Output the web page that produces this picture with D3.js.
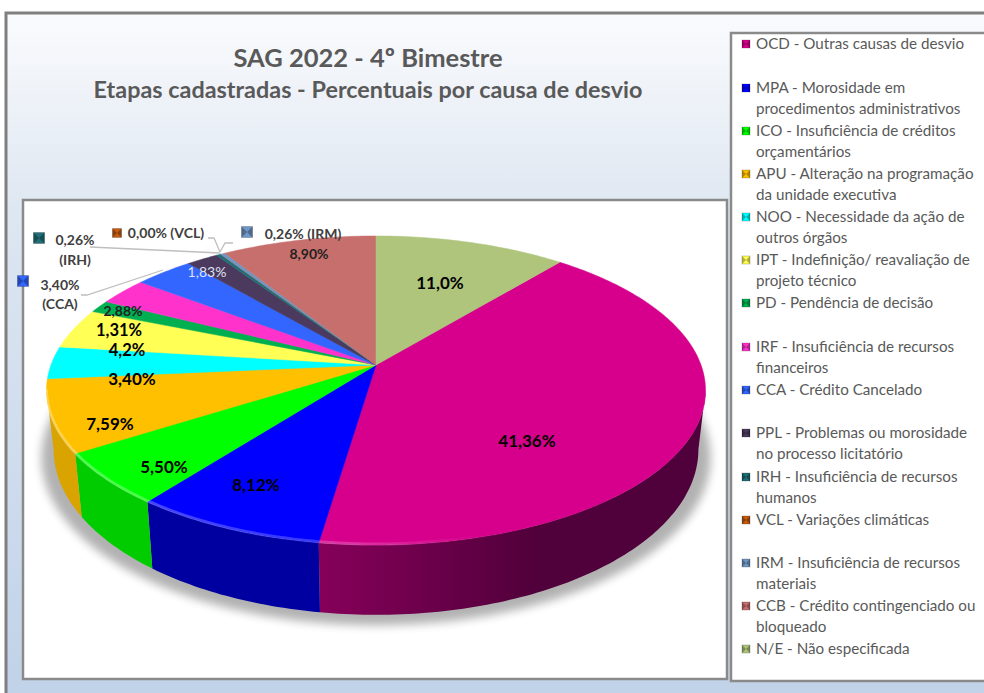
<!DOCTYPE html>
<html>
<head>
<meta charset="utf-8">
<script src="https://cdn.jsdelivr.net/npm/d3@7"></script>
<style>
html, body { margin: 0; padding: 0; background: #fff; }
svg { display: block; }
text { font-family: Lato, "Noto Sans", sans-serif; }
</style>
</head>
<body>
<svg id="chart" width="984" height="693"></svg>
<script>
var codes = ["OCD", "MPA", "ICO", "APU", "NOO", "IPT", "PD", "IRF", "CCA", "PPL", "IRH", "VCL", "IRM", "CCB", "N/E"];
var values = [41.36, 8.12, 5.50, 7.59, 3.40, 4.2, 1.31, 2.88, 3.40, 1.83, 0.26, 0.00, 0.26, 8.90, 11.0];
var colors = ["#d6008c", "#0000ff", "#00ff00", "#ffc000", "#00ffff", "#ffff55", "#00b050", "#ff33cc", "#3366ff", "#4b3a5e", "#1f6f78", "#c55a11", "#6f96c4", "#c76f6c", "#afc57c"];
var sideDark = ["#50003a", "#0000a0", "#00cc00", "#d9a400", "#00cccc", "#cccc44", "#008a40", "#cc2aa3", "#2952cc", "#3a2d49", "#185760", "#9c470e", "#587799", "#9f5856", "#8c9d63"];
var legendLines = [
    ["OCD - Outras causas de desvio"],
    ["MPA - Morosidade em", "procedimentos administrativos"],
    ["ICO - Insuficiência de créditos", "orçamentários"],
    ["APU - Alteração na programação", "da unidade executiva"],
    ["NOO - Necessidade da ação de", "outros órgãos"],
    ["IPT - Indefinição/ reavaliação de", "projeto técnico"],
    ["PD - Pendência de decisão"],
    ["IRF - Insuficiência de recursos", "financeiros"],
    ["CCA - Crédito Cancelado"],
    ["PPL - Problemas ou morosidade", "no processo licitatório"],
    ["IRH - Insuficiência de recursos", "humanos"],
    ["VCL - Variações climáticas"],
    ["IRM - Insuficiência de recursos", "materiais"],
    ["CCB - Crédito contingenciado ou", "bloqueado"],
    ["N/E - Não especificada"]
];
var legendY = [44, 88, 131, 174, 217, 260, 303, 347, 390, 433, 477, 520, 563, 606, 649];
var valueLabels = ["41,36%", "8,12%", "5,50%", "7,59%", "3,40%", "4,2%", "1,31%", "2,88%", null, "1,83%", null, null, null, "8,90%", "11,0%"];
var labelPos = [[527, 447], [256, 491], [164, 473], [110, 430], [132, 385], [127, 356], [119, 336], [123, 316], null, [207, 277], null, null, null, [309, 259], [440, 289]];
var labelSize = [17, 17, 17, 17, 17, 16.5, 16.5, 14, 0, 14, 0, 0, 0, 14, 17];

var svg = d3.select("#chart");
var defs = svg.append("defs");

var bgGrad = defs.append("linearGradient").attr("id", "bg").attr("x1", 0).attr("x2", 0).attr("y1", 0).attr("y2", 1);
bgGrad.append("stop").attr("offset", "0%").attr("stop-color", "#fafbfd");
bgGrad.append("stop").attr("offset", "30%").attr("stop-color", "#dde6f1");
bgGrad.append("stop").attr("offset", "100%").attr("stop-color", "#c0d2e8");

defs.append("filter").attr("id", "blur").attr("x", "-10%").attr("y", "-10%").attr("width", "120%").attr("height", "120%")
    .append("feGaussianBlur").attr("stdDeviation", 5);

var rimGrad = defs.append("linearGradient").attr("id", "rimFade").attr("gradientUnits", "userSpaceOnUse")
    .attr("x1", 60).attr("x2", 480).attr("y1", 0).attr("y2", 0);
rimGrad.append("stop").attr("offset", "0%").attr("stop-color", "#fff").attr("stop-opacity", 0.3);
rimGrad.append("stop").attr("offset", "70%").attr("stop-color", "#fff").attr("stop-opacity", 0.2);
rimGrad.append("stop").attr("offset", "100%").attr("stop-color", "#fff").attr("stop-opacity", 0);

svg.append("rect").attr("x", 6).attr("y", 13).attr("width", 985).attr("height", 690)
    .attr("fill", "url(#bg)").attr("stroke", "#7f7f7f").attr("stroke-width", 3);
svg.append("rect").attr("x", 23).attr("y", 200).attr("width", 704).attr("height", 479)
    .attr("fill", "#fff").attr("stroke", "#8a8a8a").attr("stroke-width", 2.5);
svg.append("rect").attr("x", 731).attr("y", 33).attr("width", 260).attr("height", 648)
    .attr("fill", "#fff").attr("stroke", "#8a8a8a").attr("stroke-width", 2.5);

svg.append("text").attr("x", 368).attr("y", 67).attr("text-anchor", "middle")
    .attr("font-size", 25.5).attr("font-weight", 700).attr("fill", "#595959").text("SAG 2022 - 4º Bimestre");
svg.append("text").attr("x", 368).attr("y", 98).attr("text-anchor", "middle")
    .attr("font-size", 23.4).attr("font-weight", 700).attr("fill", "#595959").text("Etapas cadastradas - Percentuais por causa de desvio");

// perspective: pie lies on a tilted disc, near side is bigger
var persp = 0.165;
var topDisc = { cx: 376, cy: 365, sx: 325, sy: 150.3 };
var botDisc = { cx: 376, cy: 422, sx: 318, sy: 161 };

function project(disc, a, r) {
    var X = Math.sin(a) * r, Y = -Math.cos(a) * r;
    var w = 1 - persp * Y;
    return [disc.cx + disc.sx * X / w, disc.cy + disc.sy * Y / w];
}
function arcPoints(disc, a0, a1) {
    var n = Math.max(2, Math.ceil((a1 - a0) * 60));
    return d3.range(n + 1).map(function (i) {
        return project(disc, a0 + (a1 - a0) * i / n, 1);
    });
}

// the first legend entry follows N/E, which starts at 12 o'clock
var firstAngle = values[values.length - 1] / d3.sum(values) * 2 * Math.PI;
var pie = d3.pie().value(function (d) { return d; }).sort(null)
    .startAngle(firstAngle).endAngle(firstAngle + 2 * Math.PI);
var slices = pie(values);
var line = d3.line();

// the wall only shows between the two points where the rim turns back
var wallFrom = Math.acos(persp);
wallFrom = Math.PI / 2 + (Math.PI / 2 - wallFrom);
var wallTo = 2 * Math.PI - wallFrom;

// shadow
svg.append("path")
    .attr("d", line(arcPoints({ cx: 376, cy: 430, sx: 330, sy: 163 }, 0, 2 * Math.PI)) + "Z")
    .attr("fill", "#000").attr("opacity", 0.3).attr("filter", "url(#blur)");

var pieG = svg.append("g");

// side gradients
slices.forEach(function (s, i) {
    var g = defs.append("linearGradient").attr("id", "side" + i).attr("gradientUnits", "userSpaceOnUse")
        .attr("x1", i == 0 ? 320 : project(topDisc, s.startAngle, 1)[0])
        .attr("x2", i == 0 ? 540 : project(topDisc, s.endAngle, 1)[0])
        .attr("y1", 0).attr("y2", 0);
    g.append("stop").attr("offset", "0%").attr("stop-color", i == 0 ? "#86005a" : sideDark[i]);
    g.append("stop").attr("offset", "100%").attr("stop-color", sideDark[i]);
});

var visible = slices.filter(function (s) {
    return s.endAngle > wallFrom && s.startAngle < wallTo && s.value > 0;
});
pieG.selectAll(".side").data(visible).enter().append("path")
    .attr("class", "side")
    .attr("d", function (s) {
        var a0 = Math.max(s.startAngle, wallFrom), a1 = Math.min(s.endAngle, wallTo);
        var t = arcPoints(topDisc, a0, a1);
        var b = arcPoints(botDisc, a0, a1).reverse();
        return line(t.concat(b)) + "Z";
    })
    .attr("fill", function (s) { return "url(#side" + s.index + ")"; });

pieG.selectAll(".top").data(slices).enter().append("path")
    .attr("class", "top")
    .attr("d", function (s) {
        return line([[topDisc.cx, topDisc.cy]].concat(arcPoints(topDisc, s.startAngle, s.endAngle))) + "Z";
    })
    .attr("fill", function (s, i) { return colors[i]; })
    .attr("stroke", function (s, i) { return colors[i]; })
    .attr("stroke-width", 0.5);

// light bevel along the near rim
pieG.selectAll(".rim").data(visible).enter().append("path")
    .attr("class", "rim")
    .attr("d", function (s) {
        return line(arcPoints(topDisc, Math.max(s.startAngle, wallFrom), Math.min(s.endAngle, wallTo)));
    })
    .attr("fill", "none")
    .attr("stroke", "url(#rimFade)").attr("stroke-width", 3)
    .attr("transform", "translate(0,-1)");

// value labels on the slices
valueLabels.forEach(function (t, i) {
    if (!t) return;
    svg.append("text").attr("x", labelPos[i][0]).attr("y", labelPos[i][1])
        .attr("text-anchor", "middle").attr("font-size", labelSize[i])
        .attr("font-weight", codes[i] == "PPL" ? 400 : 700)
        .attr("fill", codes[i] == "PPL" ? "#dfe3f5" : (labelSize[i] < 15 ? "#222" : "#000")).text(t);
});

function marker(sel, x, y, size, c) {
    sel.append("rect").attr("x", x - size / 2).attr("y", y - size / 2).attr("width", size).attr("height", size)
        .attr("fill", c).attr("stroke", "#00000033");
    // dark bow tie gives the bevelled key look
    var h = size / 2;
    sel.append("path")
        .attr("d", line([[x - h, y - h], [x - h, y + h], [x, y], [x + h, y + h], [x + h, y - h], [x, y]]) + "Z")
        .attr("fill", "#000").attr("opacity", 0.3);
}

// outside labels with leader lines
var outside = [
    { code: "IRH", lines: ["0,26%", "(IRH)"], x: 75, y: 245, step: 20, key: [39, 238], size: 11, pts: [[90, 247], [220, 253]] },
    { code: "VCL", lines: ["0,00% (VCL)"], x: 166, y: 238, key: [117, 233], size: 9, pts: [[208, 238], [214, 238], [220, 252]] },
    { code: "IRM", lines: ["0,26% (IRM)"], x: 303, y: 239, key: [247, 232], size: 11, pts: [[233, 243], [225, 243], [220, 252]] },
    { code: "CCA", lines: ["3,40%", "(CCA)"], x: 60, y: 290, step: 19, key: [23, 281], size: 11, pts: [[81, 295], [87, 295], [163, 270]] }
];
outside.forEach(function (o) {
    var c = colors[codes.indexOf(o.code)];
    svg.append("path").attr("d", line(o.pts)).attr("fill", "none").attr("stroke", "#bfbfbf").attr("stroke-width", 1.3);
    marker(svg, o.key[0], o.key[1], o.size, c);
    o.lines.forEach(function (l, j) {
        svg.append("text").attr("x", o.x).attr("y", o.y + j * (o.step || 0)).attr("text-anchor", "middle")
            .attr("font-size", 14).attr("font-weight", 700).attr("fill", "#404040").text(l);
    });
});

// legend
var legend = svg.selectAll(".legendItem").data(codes).enter().append("g").attr("class", "legendItem")
    .attr("transform", function (d, i) { return "translate(0," + legendY[i] + ")"; });
legend.each(function (d, i) {
    var g = d3.select(this);
    marker(g, 746, 0, 8, colors[i]);
    legendLines[i].forEach(function (l, j) {
        g.append("text").attr("x", 756).attr("y", 5 + j * 21).attr("font-size", 15.2).attr("fill", "#595959").text(l);
    });
});
</script>
</body>
</html>
